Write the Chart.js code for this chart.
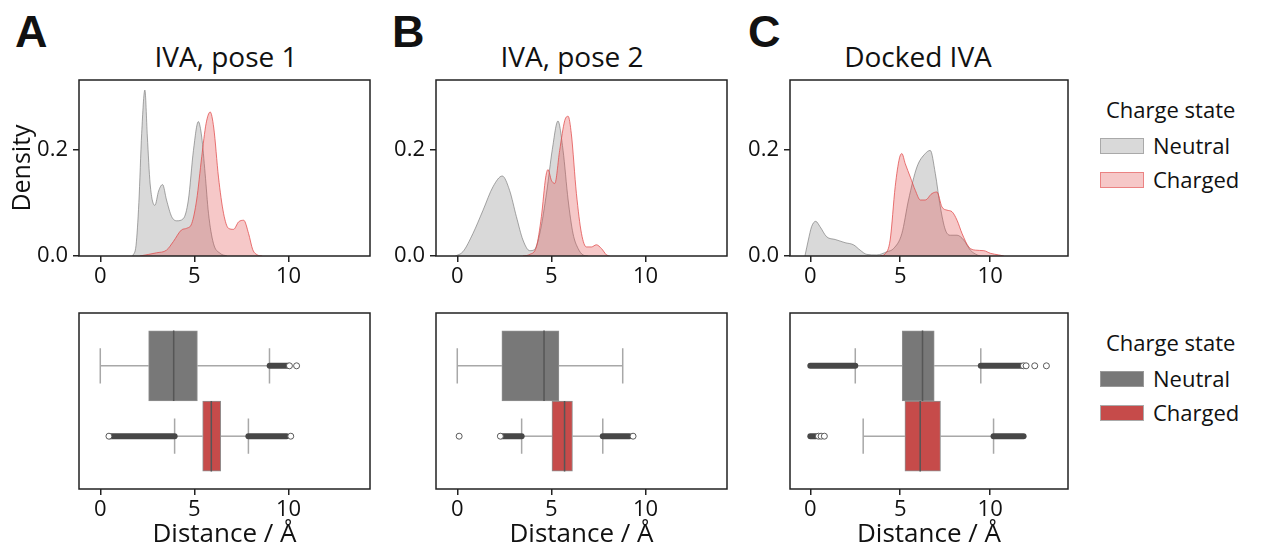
<!DOCTYPE html>
<html lang="en">
<head>
<meta charset="UTF-8" />
<meta name="viewport" content="width=device-width, initial-scale=1.0" />
<title>Distance by charge state</title>
<script src="https://cdn.jsdelivr.net/npm/chart.js"></script>
<style>
  body {
    margin: 0;
    width: 1268px;
    height: 548px;
    overflow: hidden;
    background: #fff;
    position: relative;
    font-family: 'Open Sans', sans-serif;
    color: #111;
  }
  canvas { position: absolute; }
  .letter {
    position: absolute;
    top: 8px;
    font-family: 'Liberation Sans', Arial, sans-serif;
    font-weight: bold;
    font-size: 45px;
    line-height: 1;
  }
  .title {
    position: absolute;
    top: 41px;
    font-size: 28px;
    line-height: 1;
    white-space: nowrap;
    transform: translateX(-50%);
  }
  .lg { position: absolute; font-size: 22px; line-height: 1; white-space: nowrap; }
  .sw { position: absolute; width: 44px; height: 16px; box-sizing: border-box; border: 1.5px solid; }
</style>
</head>
<body>
<script>
  // ---- data ----
  const panelLetters = ['A', 'B', 'C'];
  const panelTitles = ['IVA, pose 1', 'IVA, pose 2', 'Docked IVA'];
  const chargeStates = ['Neutral', 'Charged'];
  const distanceTicks = [0, 5, 10];
  const densityTicks = [0, 0.2];

  // KDE curves, [distance, density]
  const kdeNeutralA = [[1.72,0],[1.9,0.02],[2.05,0.1],[2.2,0.23],[2.37,0.311],[2.5,0.225],[2.65,0.135],[2.9,0.095],[3.1,0.122],[3.31,0.134],[3.52,0.105],[3.79,0.074],[4.06,0.066],[4.41,0.07],[4.68,0.105],[4.95,0.198],[5.21,0.252],[5.39,0.223],[5.57,0.155],[5.75,0.08],[6.01,0.024],[6.37,0.005],[6.73,0]];
  const kdeChargedA = [[2.1,0],[2.99,0.006],[3.52,0.011],[3.88,0.027],[4.32,0.049],[4.59,0.052],[4.86,0.061],[5.12,0.105],[5.39,0.186],[5.62,0.248],[5.84,0.27],[6.03,0.24],[6.28,0.148],[6.55,0.08],[6.81,0.052],[7.08,0.05],[7.35,0.064],[7.62,0.067],[7.88,0.042],[8.1,0.012],[8.35,0.002],[8.6,0]];
  const kdeNeutralB = [[-0.1,0],[0.3,0.008],[0.83,0.042],[1.37,0.086],[1.9,0.13],[2.39,0.15],[2.78,0.123],[3.14,0.074],[3.49,0.03],[3.85,0.01],[4.1,0.012],[4.4,0.045],[4.75,0.12],[5.05,0.2],[5.35,0.253],[5.62,0.198],[5.89,0.105],[6.15,0.042],[6.42,0.014],[6.68,0.002],[6.95,0]];
  const kdeChargedB = [[3.49,0],[3.85,0.003],[4.2,0.017],[4.47,0.074],[4.7,0.148],[4.82,0.162],[5.0,0.142],[5.18,0.136],[5.44,0.198],[5.71,0.254],[5.89,0.262],[6.06,0.229],[6.33,0.117],[6.6,0.042],[6.86,0.017],[7.13,0.017],[7.39,0.021],[7.66,0.014],[7.93,0.002],[8.1,0]];
  const kdeNeutralC = [[-0.3,0],[-0.11,0.03],[0.07,0.055],[0.3,0.065],[0.54,0.055],[0.91,0.036],[1.38,0.031],[1.93,0.025],[2.4,0.021],[2.77,0.011],[3.14,0.003],[3.7,0.002],[4.26,0.008],[4.63,0.014],[5.09,0.042],[5.46,0.105],[5.93,0.167],[6.39,0.192],[6.67,0.198],[6.95,0.155],[7.23,0.092],[7.51,0.049],[7.79,0.039],[8.16,0.039],[8.53,0.03],[8.9,0.011],[9.28,0.002],[9.46,0]];
  const kdeChargedC = [[3.88,0],[4.16,0.004],[4.44,0.03],[4.72,0.13],[4.96,0.184],[5.09,0.192],[5.28,0.173],[5.56,0.148],[5.84,0.123],[6.12,0.105],[6.39,0.105],[6.76,0.117],[7.04,0.12],[7.32,0.092],[7.6,0.086],[7.88,0.083],[8.16,0.067],[8.44,0.042],[8.81,0.017],[9.18,0.011],[9.65,0.01],[10.02,0.005],[10.48,0.002],[10.76,0]];

  // box stats per panel: [whisker low, Q1, median, Q3, whisker high] for Neutral, Charged
  const boxA = [[0.0, 2.57, 3.9, 5.16, 8.99], [3.95, 5.44, 5.9, 6.4, 7.87]];
  const boxB = [[0.0, 2.37, 4.61, 5.4, 8.79], [3.42, 5.03, 5.7, 6.12, 7.73]];
  const boxC = [[2.5, 5.11, 6.24, 6.89, 9.48], [2.94, 5.26, 6.11, 7.24, 10.19]];

  // runs of outliers too dense to tell apart: [from, to]
  const denseA = [[[9.0, 9.98]], [[0.5, 3.95], [7.87, 9.9]]];
  const denseB = [[], [[2.35, 3.42], [7.73, 9.15]]];
  const denseC = [[[0.0, 2.5], [9.48, 11.74]], [[0.0, 0.3], [10.19, 11.86]]];

  // single outliers
  const flierA = [[10.05, 10.43], [0.46, 10.12]];
  const flierB = [[], [0.1, 2.29, 9.34]];
  const flierC = [[11.85, 12.0, 12.48, 13.13], [0.45, 0.6, 0.78]];

  const densityCurves = [[kdeNeutralA, kdeChargedA], [kdeNeutralB, kdeChargedB], [kdeNeutralC, kdeChargedC]];
  const boxStats = [boxA, boxB, boxC];
  const denseRuns = [denseA, denseB, denseC];
  const fliers = [flierA, flierB, flierC];

  // ---- layout / style ----
  const panelLeft = [79, 436, 790];
  const panelRight = [370, 727, 1068];
  const titleCenter = [226, 572, 918];
  const letterLeft = [15, 392, 748];
  const DENS_TOP = 80, DENS_BOTTOM = 256;
  const BOX_TOP = 313, BOX_BOTTOM = 489;
  const PAD = 6, DENS_PAD = 20;
  const X_MIN = -1.13, X_MAX = 14.33, Y_MAX = 0.33;

  const kdeFill = ['rgba(128,128,128,0.3)', 'rgba(226,74,74,0.3)'];
  const kdeLine = ['rgba(110,110,110,0.6)', 'rgba(226,74,74,0.75)'];
  const boxFill = ['#787878', '#c64b4a'];
  const whiskerColor = '#a8a8a8';

  Chart.defaults.font.family = "'Open Sans', sans-serif";
  Chart.defaults.color = '#111';

  const frame = {
    id: 'frame',
    afterDraw(chart) {
      const { ctx, chartArea: a } = chart;
      ctx.save();
      ctx.strokeStyle = '#222';
      ctx.lineWidth = 1.5;
      ctx.strokeRect(a.left, a.top, a.right - a.left, a.bottom - a.top);
      ctx.restore();
    }
  };

  function place(left, top, width, height) {
    const c = document.createElement('canvas');
    c.width = width;
    c.height = height;
    c.style.left = left + 'px';
    c.style.top = top + 'px';
    document.body.appendChild(c);
    return c;
  }

  function addText(cls, text, left, top) {
    const d = document.createElement('div');
    d.className = cls;
    d.textContent = text;
    d.style.left = left + 'px';
    d.style.top = top + 'px';
    document.body.appendChild(d);
  }

  function xAxis(height, title) {
    return {
      type: 'linear',
      min: X_MIN,
      max: X_MAX,
      afterBuildTicks: s => { s.ticks = distanceTicks.map(v => ({ value: v })); },
      afterFit: s => { s.height = height; },
      ticks: { font: { size: 22 }, color: '#111', padding: 2, maxRotation: 0, callback: v => String(v) },
      grid: { drawOnChartArea: false, tickLength: 6, color: '#222', lineWidth: 1.5 },
      border: { display: false },
      title: title
        ? { display: true, text: title, font: { size: 26, lineHeight: 1 }, color: '#111', padding: 0 }
        : { display: false }
    };
  }

  const baseOptions = {
    responsive: false,
    animation: false,
    events: [],
    plugins: { legend: { display: false }, tooltip: { enabled: false } }
  };

  function densityChart(i) {
    const L = panelLeft[i], R = panelRight[i];
    const axW = i === 0 ? L : 70;
    const c = place(L - axW, DENS_TOP - DENS_PAD, R - L + axW + PAD, DENS_BOTTOM - DENS_TOP + DENS_PAD + 40);
    const datasets = densityCurves[i].map((curve, k) => ({
      label: chargeStates[k],
      data: curve.map(([x, y]) => ({ x, y })),
      fill: 'origin',
      backgroundColor: kdeFill[k],
      borderColor: kdeLine[k],
      borderWidth: 1,
      pointRadius: 0,
      cubicInterpolationMode: 'monotone',
      order: 2 - k
    }));
    new Chart(c, {
      type: 'line',
      data: { datasets },
      options: {
        ...baseOptions,
        layout: { padding: { left: 0, top: DENS_PAD, right: PAD, bottom: 0 } },
        scales: {
          x: xAxis(40, null),
          y: {
            type: 'linear',
            min: 0,
            max: Y_MAX,
            afterBuildTicks: s => { s.ticks = densityTicks.map(v => ({ value: v })); },
            afterFit: s => { s.width = axW; },
            ticks: { font: { size: 22 }, color: '#111', padding: 5, callback: v => v.toFixed(1) },
            grid: { drawOnChartArea: false, tickLength: 6, color: '#222', lineWidth: 1.5 },
            border: { display: false },
            title: i === 0
              ? { display: true, text: 'Density', font: { size: 25, lineHeight: 1 }, color: '#111', padding: { top: 10, bottom: 0 } }
              : { display: false }
          }
        }
      },
      plugins: [frame]
    });
  }

  function seg(points, color, width, order, extra) {
    return Object.assign({
      type: 'line',
      data: points,
      borderColor: color,
      borderWidth: width,
      pointRadius: 0,
      fill: false,
      order
    }, extra || {});
  }

  function boxChart(i) {
    const L = panelLeft[i], R = panelRight[i];
    const xH = 59;
    const c = place(L - PAD, BOX_TOP - PAD, R - L + 2 * PAD, BOX_BOTTOM - BOX_TOP + PAD + xH);
    const datasets = [];
    chargeStates.forEach((name, k) => {
      const [lo, q1, med, q3, hi] = boxStats[i][k];
      const y0 = k === 0 ? -0.2 : 0.2;
      // whiskers and caps
      datasets.push(seg([{ x: lo, y: y0 }, { x: q1, y: y0 }], whiskerColor, 1.5, 4));
      datasets.push(seg([{ x: q3, y: y0 }, { x: hi, y: y0 }], whiskerColor, 1.5, 4));
      datasets.push(seg([{ x: lo, y: y0 - 0.1 }, { x: lo, y: y0 + 0.1 }], whiskerColor, 1.5, 4));
      datasets.push(seg([{ x: hi, y: y0 - 0.1 }, { x: hi, y: y0 + 0.1 }], whiskerColor, 1.5, 4));
      // box
      datasets.push({
        type: 'bar',
        label: name,
        indexAxis: 'y',
        grouped: false,
        barThickness: 70,
        data: [{ x: [q1, q3], y: y0 }],
        backgroundColor: boxFill[k],
        borderColor: '#8f8f8f',
        borderWidth: 1,
        borderSkipped: false,
        order: 3
      });
      // median
      datasets.push(seg([{ x: med, y: y0 - 0.2 }, { x: med, y: y0 + 0.2 }], '#565656', 1.5, 2));
      // dense outlier runs
      denseRuns[i][k].forEach(([a, b]) => {
        datasets.push(seg([{ x: a, y: y0 }, { x: b, y: y0 }], '#474747', 6, 1, { borderCapStyle: 'round' }));
      });
      // single outliers
      if (fliers[i][k].length) {
        datasets.push({
          type: 'scatter',
          data: fliers[i][k].map(x => ({ x, y: y0 })),
          pointRadius: 3,
          pointBackgroundColor: '#fff',
          pointBorderColor: '#5a5a5a',
          pointBorderWidth: 1,
          showLine: false,
          order: 0
        });
      }
    });
    new Chart(c, {
      type: 'scatter',
      data: { datasets },
      options: {
        ...baseOptions,
        layout: { padding: { left: PAD, top: PAD, right: PAD, bottom: 0 } },
        scales: {
          x: xAxis(xH, 'Distance / Å'),
          y: { type: 'linear', min: -0.5, max: 0.5, reverse: true, display: false, offset: false, grid: { offset: false } }
        }
      },
      plugins: [frame]
    });
  }

  function legend(top, fills, edges) {
    addText('lg', 'Charge state', 1106, top);
    chargeStates.forEach((name, k) => {
      const mid = top + 47.5 + 34 * k;
      const sw = document.createElement('div');
      sw.className = 'sw';
      sw.style.left = '1100px';
      sw.style.top = (mid - 8) + 'px';
      sw.style.background = fills[k];
      sw.style.borderColor = edges[k];
      document.body.appendChild(sw);
      addText('lg', name, 1153, mid - 11.7);
    });
  }

  for (let i = 0; i < 3; i++) {
    addText('letter', panelLetters[i], letterLeft[i], 9);
    addText('title', panelTitles[i], titleCenter[i], 42);
    densityChart(i);
    boxChart(i);
  }
  legend(98, ['rgba(128,128,128,0.3)', 'rgba(226,74,74,0.3)'], ['rgba(110,110,110,0.45)', 'rgba(226,74,74,0.55)']);
  legend(331, boxFill, ['#999', '#aaa']);
</script>
</body>
</html>
